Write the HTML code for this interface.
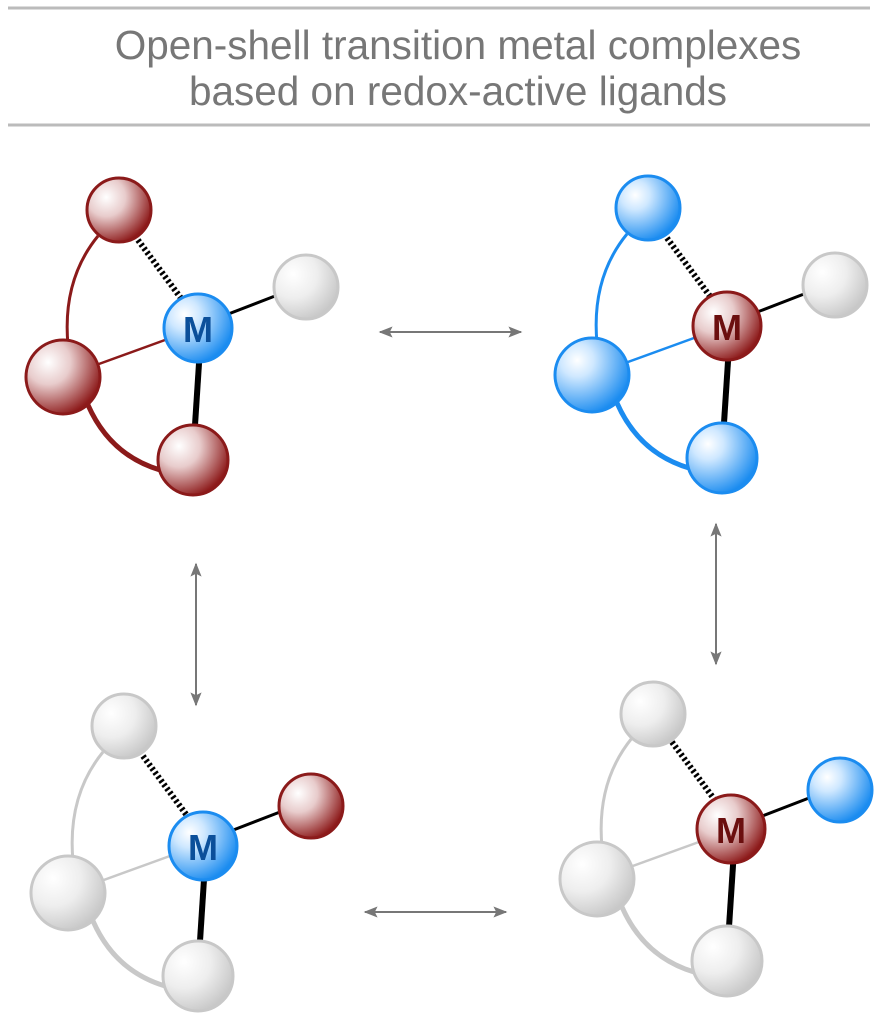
<!DOCTYPE html>
<html><head><style>body{margin:0;background:#fff}svg{display:block}</style></head><body>
<svg width="881" height="1024" viewBox="0 0 881 1024" xmlns="http://www.w3.org/2000/svg">
<defs>
<radialGradient id="r" cx="0.3" cy="0.3" r="0.75"><stop offset="0" stop-color="#fff"/><stop offset="0.4" stop-color="#e8cccc"/><stop offset="1" stop-color="#8e1c1c"/></radialGradient>
<radialGradient id="b" cx="0.3" cy="0.3" r="0.75"><stop offset="0" stop-color="#fff"/><stop offset="0.3" stop-color="#cfe8ff"/><stop offset="1" stop-color="#1b8cf0"/></radialGradient>
<radialGradient id="g" cx="0.3" cy="0.3" r="0.75"><stop offset="0" stop-color="#fff"/><stop offset="0.5" stop-color="#eee"/><stop offset="1" stop-color="#c8c8c8"/></radialGradient>
<marker id="ah" viewBox="0 0 10 10" refX="9" refY="5" markerWidth="7" markerHeight="7" orient="auto-start-reverse"><path d="M0,1 L10,5 L0,9 L2,5 z" fill="#777"/></marker>
</defs>
<line x1="8" y1="8" x2="870" y2="8" stroke="#bbb" stroke-width="3"/>
<line x1="8" y1="125" x2="870" y2="125" stroke="#bbb" stroke-width="3"/>
<g font-family="Liberation Sans, sans-serif" font-size="40.5" fill="#777" text-anchor="middle">
<text x="458" y="59">Open-shell transition metal complexes</text>
<text x="458" y="105">based on redox-active ligands</text>
</g>
<g stroke="#777" stroke-width="2" fill="none">
<line x1="380" y1="332" x2="521" y2="332" marker-start="url(#ah)" marker-end="url(#ah)"/>
<line x1="365" y1="912" x2="506" y2="912" marker-start="url(#ah)" marker-end="url(#ah)"/>
<line x1="196" y1="564" x2="196" y2="705" marker-start="url(#ah)" marker-end="url(#ah)"/>
<line x1="716" y1="524" x2="716" y2="664" marker-start="url(#ah)" marker-end="url(#ah)"/>
</g>
<g transform="translate(0,0)">
<path d="M98,236 Q62,280 68,345" stroke="#8b1a1a" stroke-width="3" fill="none"/>
<path d="M88,405 Q110,455 160,470" stroke="#8b1a1a" stroke-width="5" fill="none"/>
<line x1="63" y1="377" x2="198" y2="328" stroke="#8b1a1a" stroke-width="2.5"/>
<line x1="135" y1="236" x2="186" y2="305" stroke="#000" stroke-width="6" stroke-dasharray="2.5,2.5"/>
<line x1="218" y1="318" x2="275" y2="296" stroke="#000" stroke-width="3"/>
<line x1="200" y1="348" x2="195" y2="425" stroke="#000" stroke-width="6"/>
<circle cx="119" cy="210" r="32" fill="url(#r)" stroke="#8b1a1a" stroke-width="3"/>
<circle cx="306" cy="287" r="32" fill="url(#g)" stroke="#c8c8c8" stroke-width="3"/>
<circle cx="63" cy="377" r="37" fill="url(#r)" stroke="#8b1a1a" stroke-width="3"/>
<circle cx="193" cy="460" r="35" fill="url(#r)" stroke="#8b1a1a" stroke-width="3"/>
<circle cx="198" cy="328" r="34" fill="url(#b)" stroke="#1b8cf0" stroke-width="3"/>
<text x="198" y="342" font-family="Liberation Sans, sans-serif" font-weight="bold" font-size="36" fill="#0b4f9a" text-anchor="middle">M</text>
</g>
<g transform="translate(529,-2)">
<path d="M98,236 Q62,280 68,345" stroke="#1b8cf0" stroke-width="3" fill="none"/>
<path d="M88,405 Q110,455 160,470" stroke="#1b8cf0" stroke-width="5" fill="none"/>
<line x1="63" y1="377" x2="198" y2="328" stroke="#1b8cf0" stroke-width="2.5"/>
<line x1="135" y1="236" x2="186" y2="305" stroke="#000" stroke-width="6" stroke-dasharray="2.5,2.5"/>
<line x1="218" y1="318" x2="275" y2="296" stroke="#000" stroke-width="3"/>
<line x1="200" y1="348" x2="195" y2="425" stroke="#000" stroke-width="6"/>
<circle cx="119" cy="210" r="32" fill="url(#b)" stroke="#1b8cf0" stroke-width="3"/>
<circle cx="306" cy="287" r="32" fill="url(#g)" stroke="#c8c8c8" stroke-width="3"/>
<circle cx="63" cy="377" r="37" fill="url(#b)" stroke="#1b8cf0" stroke-width="3"/>
<circle cx="193" cy="460" r="35" fill="url(#b)" stroke="#1b8cf0" stroke-width="3"/>
<circle cx="198" cy="328" r="34" fill="url(#r)" stroke="#8b1a1a" stroke-width="3"/>
<text x="198" y="342" font-family="Liberation Sans, sans-serif" font-weight="bold" font-size="36" fill="#6b0f0f" text-anchor="middle">M</text>
</g>
<g transform="translate(5,516)">
<path d="M98,236 Q62,280 68,345" stroke="#c8c8c8" stroke-width="3" fill="none"/>
<path d="M88,405 Q110,455 160,470" stroke="#c8c8c8" stroke-width="5" fill="none"/>
<line x1="63" y1="377" x2="198" y2="328" stroke="#c8c8c8" stroke-width="2.5"/>
<line x1="135" y1="236" x2="186" y2="305" stroke="#000" stroke-width="6" stroke-dasharray="2.5,2.5"/>
<line x1="218" y1="318" x2="275" y2="296" stroke="#000" stroke-width="3"/>
<line x1="200" y1="348" x2="195" y2="425" stroke="#000" stroke-width="6"/>
<circle cx="119" cy="210" r="32" fill="url(#g)" stroke="#c8c8c8" stroke-width="3"/>
<circle cx="306" cy="290" r="32" fill="url(#r)" stroke="#8b1a1a" stroke-width="3"/>
<circle cx="63" cy="377" r="37" fill="url(#g)" stroke="#c8c8c8" stroke-width="3"/>
<circle cx="193" cy="460" r="35" fill="url(#g)" stroke="#c8c8c8" stroke-width="3"/>
<circle cx="198" cy="330" r="34" fill="url(#b)" stroke="#1b8cf0" stroke-width="3"/>
<text x="198" y="344" font-family="Liberation Sans, sans-serif" font-weight="bold" font-size="36" fill="#0b4f9a" text-anchor="middle">M</text>
</g>
<g transform="translate(534,502)">
<path d="M98,236 Q62,280 68,345" stroke="#c8c8c8" stroke-width="3" fill="none"/>
<path d="M88,405 Q110,455 160,470" stroke="#c8c8c8" stroke-width="5" fill="none"/>
<line x1="63" y1="377" x2="198" y2="328" stroke="#c8c8c8" stroke-width="2.5"/>
<line x1="135" y1="236" x2="186" y2="305" stroke="#000" stroke-width="6" stroke-dasharray="2.5,2.5"/>
<line x1="218" y1="318" x2="275" y2="296" stroke="#000" stroke-width="3"/>
<line x1="200" y1="348" x2="195" y2="425" stroke="#000" stroke-width="6"/>
<circle cx="119" cy="212" r="32" fill="url(#g)" stroke="#c8c8c8" stroke-width="3"/>
<circle cx="306" cy="288" r="32" fill="url(#b)" stroke="#1b8cf0" stroke-width="3"/>
<circle cx="63" cy="377" r="37" fill="url(#g)" stroke="#c8c8c8" stroke-width="3"/>
<circle cx="193" cy="459" r="35" fill="url(#g)" stroke="#c8c8c8" stroke-width="3"/>
<circle cx="197" cy="327" r="34" fill="url(#r)" stroke="#8b1a1a" stroke-width="3"/>
<text x="197" y="341" font-family="Liberation Sans, sans-serif" font-weight="bold" font-size="36" fill="#6b0f0f" text-anchor="middle">M</text>
</g>
</svg>
</body></html>
